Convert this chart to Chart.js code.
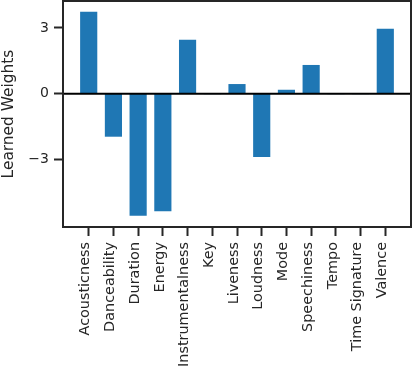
<!DOCTYPE html>
<html>
<head>
<meta charset="utf-8">
<script src="https://cdn.jsdelivr.net/npm/chart.js@4/dist/chart.umd.min.js"></script>
<style>
html,body{margin:0;padding:0;background:#fff;}
#wrap{width:414px;height:370px;position:relative;}
</style>
</head>
<body>
<div id="wrap"><canvas id="c" width="414" height="370"></canvas></div>
<script>
const categories = ["Acousticness","Danceability","Duration","Energy","Instrumentalness","Key","Liveness","Loudness","Mode","Speechiness","Tempo","Time Signature","Valence"];
const weights = [3.73, -1.94, -5.54, -5.34, 2.45, 0, 0.43, -2.86, 0.17, 1.30, 0, 0, 2.95];
const yTicks = [-3, 0, 3];
const yLimits = [-6.07, 4.23];
const xLimits = [-1.04, 13.04];

const ink = '#262626';
const framePlugin = {
  id: 'frame',
  afterDatasetsDraw(chart) {
    const {ctx, chartArea: a, scales} = chart;
    const y0 = scales.y.getPixelForValue(0);
    ctx.save();
    ctx.strokeStyle = '#000';
    ctx.lineWidth = 2;
    ctx.beginPath();
    ctx.moveTo(a.left, y0);
    ctx.lineTo(a.right, y0);
    ctx.stroke();
    ctx.strokeStyle = ink;
    ctx.lineWidth = 2;
    ctx.strokeRect(a.left, a.top, a.right - a.left, a.bottom - a.top);
    ctx.restore();
  }
};

new Chart(document.getElementById('c'), {
  type: 'bar',
  data: {
    datasets: [{
      data: weights.map((v, i) => ({x: i, y: v})),
      backgroundColor: '#1f77b4',
      borderWidth: 0,
      barThickness: 16.5
    }]
  },
  options: {
    responsive: false,
    animation: false,
    devicePixelRatio: 1,
    layout: {padding: {top: 1, right: 3, left: 0, bottom: 0}},
    plugins: {legend: {display: false}, tooltip: {enabled: false}},
    scales: {
      x: {
        type: 'linear',
        offset: false,
        min: xLimits[0], max: xLimits[1],
        afterBuildTicks: s => { s.ticks = categories.map((_, i) => ({value: i})); },
        afterFit: s => { s.height = 143; s.paddingLeft = 0; s.paddingRight = 0; },
        border: {display: false},
        grid: {offset: false, drawOnChartArea: false, drawTicks: true, tickLength: 9, tickWidth: 2, tickColor: ink},
        ticks: {
          autoSkip: false, minRotation: 90, maxRotation: 90, padding: 6, labelOffset: -3,
          color: ink, font: {family: 'DejaVu Sans', size: 14.4},
          callback: v => categories[v]
        }
      },
      y: {
        min: yLimits[0], max: yLimits[1],
        afterBuildTicks: s => { s.ticks = yTicks.map(v => ({value: v})); },
        afterFit: s => { s.width = 63; s.paddingTop = 0; s.paddingBottom = 0; },
        border: {display: false},
        grid: {drawOnChartArea: false, drawTicks: true, tickLength: 9, tickWidth: 2, tickColor: ink},
        ticks: {
          padding: 5, color: ink, font: {family: 'DejaVu Sans', size: 14},
          callback: v => (v < 0 ? '\u2212' + Math.abs(v) : String(v))
        },
        title: {display: true, text: 'Learned Weights', color: ink, font: {family: 'DejaVu Sans', size: 15.4}, padding: {top: 0, bottom: 0}}
      }
    }
  },
  plugins: [framePlugin]
});
</script>
</body>
</html>
